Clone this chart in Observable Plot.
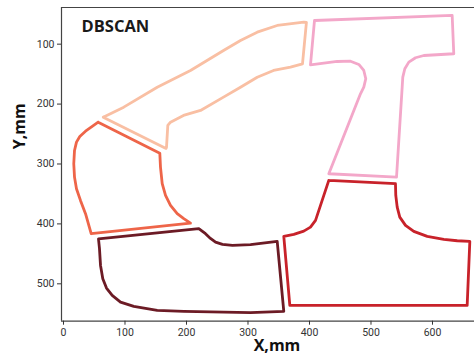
<!DOCTYPE html>
<html>
<head>
<meta charset="utf-8">
<script src="https://cdn.jsdelivr.net/npm/d3@7"></script>
<script src="https://cdn.jsdelivr.net/npm/@observablehq/plot@0.6"></script>
<style>
  html, body { margin: 0; padding: 0; background: #fff; }
  #chart { position: relative; width: 474px; height: 362px; }
</style>
</head>
<body>
<div id="chart"></div>
<script>
// Cluster outlines (x, y in mm)
const clusterNames = ["c0", "c1", "c2", "c3", "c4"];
const clusterColors = ["#f9bfa3", "#f3a7c9", "#ee6549", "#6c1b25", "#c8222a"];

const peachX = [64.6, 98, 152.4, 206.5, 260.2, 287.8, 315, 347.5, 390.7, 395, 388.6, 369.1, 341.5, 315, 287.8, 260.2, 222.8, 195.1, 174, 169.6, 167.5, 166.7];
const peachY = [221.8, 205.1, 171.8, 143.9, 110.5, 93.8, 80, 68.8, 63.3, 63.8, 133, 138.4, 143.9, 155.1, 171.8, 188.4, 210.6, 219, 230.2, 235.7, 271.9, 274];

const pinkX = [408.1, 632, 634.6, 585.9, 572.4, 561.5, 555, 551.7, 550.7, 541.5, 431.4, 482.9, 488.3, 491.5, 488.3, 480.2, 466.7, 445, 401.6];
const pinkY = [60.5, 52.1, 116, 118.9, 122.7, 130, 141, 155.1, 171.8, 321.9, 316.3, 182.8, 171.8, 157.7, 143.9, 133.9, 128.4, 128.9, 134.4];

const salmonX = [56.4, 156.6, 157.7, 160.5, 165.9, 174, 184.9, 195.6, 206.5, 45, 35.8, 27.6, 21.1, 17.9, 16.7, 17.9, 21.1, 26.5, 35.8, 46.7];
const salmonY = [230.2, 281.9, 305.2, 332.9, 352.5, 369.1, 383, 391.3, 398.7, 416.4, 383, 360.8, 341.3, 321.9, 299.6, 277.4, 263.5, 254, 245.2, 237.3];

const brownX = [56.9, 220, 230.9, 239, 247.2, 258.5, 274.8, 304.1, 347.5, 358.2, 304.1, 195.6, 152.4, 114.3, 92.7, 79.2, 69.9, 63.9, 60.2, 58.5];
const brownY = [425, 408, 416.4, 424.2, 430.4, 434.2, 435.9, 434.7, 429.2, 546, 548.2, 546, 544.4, 537.7, 530.5, 519.3, 507.1, 491.5, 469.3, 441.4];

const redX = [431.4, 539.8, 540.3, 542.6, 546.8, 556.1, 569.6, 591.4, 618.4, 640.2, 660.7, 656.4, 368, 358.2, 374.5, 390.7, 401.6, 409.8, 417.9, 426];
const redY = [327.4, 332.9, 352.5, 372, 388.7, 402.5, 412.5, 420.9, 425.9, 428.1, 429.2, 536, 536, 420.9, 417.5, 412, 405.4, 394.2, 369.1, 344.1];

const xTicks = [0, 100, 200, 300, 400, 500, 600];
const yTicks = [100, 200, 300, 400, 500];

// Build the table (closed outlines)
const series = [[peachX, peachY], [pinkX, pinkY], [salmonX, salmonY], [brownX, brownY], [redX, redY]];
const rows = [];
series.forEach(([xs, ys], k) => {
  const n = xs.length;
  for (let i = 0; i <= n; i++) {
    rows.push({ cluster: clusterNames[k], x: xs[i % n], y: ys[i % n] });
  }
});

const xDomain = [-3.25, 668.3];
const yDomain = [38.8, 562.4];

const chart = Plot.plot({
  width: 474,
  height: 362,
  marginLeft: 61,
  marginRight: 0,
  marginTop: 7,
  marginBottom: 41.3,
  style: { fontFamily: "Roboto, 'Noto Sans', sans-serif", background: "#fff", overflow: "visible" },
  x: { domain: xDomain, ticks: xTicks, label: null },
  y: { domain: yDomain, reverse: true, ticks: yTicks, label: null },
  color: { domain: clusterNames, range: clusterColors },
  marks: [
    Plot.line(rows, { x: "x", y: "y", z: "cluster", stroke: "cluster", strokeWidth: 2.8, strokeLinejoin: "round", strokeLinecap: "round" }),
    Plot.ruleY([yDomain[0]], { stroke: "#444", strokeWidth: 1.2 }),
    Plot.ruleY([yDomain[1]], { stroke: "#444", strokeWidth: 1.2 }),
    Plot.ruleX([xDomain[0]], { stroke: "#444", strokeWidth: 1.2 }),
    Plot.axisX({ ticks: xTicks, tickSize: 4, tickPadding: 3, fontSize: 10.5, color: "#333", label: null }),
    Plot.axisY({ ticks: yTicks, tickSize: 4, tickPadding: 3, fontSize: 10.5, color: "#333", label: null }),
    Plot.text(["DBSCAN"], { frameAnchor: "top-left", dx: 20, dy: 13, fontSize: 16.5, fontWeight: "bold", fill: "#1a1a1a", fontFamily: "'Open Sans', sans-serif", textAnchor: "start" }),
    Plot.text(["X,mm"], { frameAnchor: "bottom", dx: 9, dy: 30, fontSize: 16, fontWeight: "bold", fill: "#111", fontFamily: "'Open Sans', sans-serif" }),
    Plot.text(["Y,mm"], { frameAnchor: "left", dx: -42, dy: -15, rotate: -90, fontSize: 16, fontWeight: "bold", fill: "#111", fontFamily: "'Open Sans', sans-serif" })
  ]
});
document.getElementById("chart").appendChild(chart);
</script>
</body>
</html>
